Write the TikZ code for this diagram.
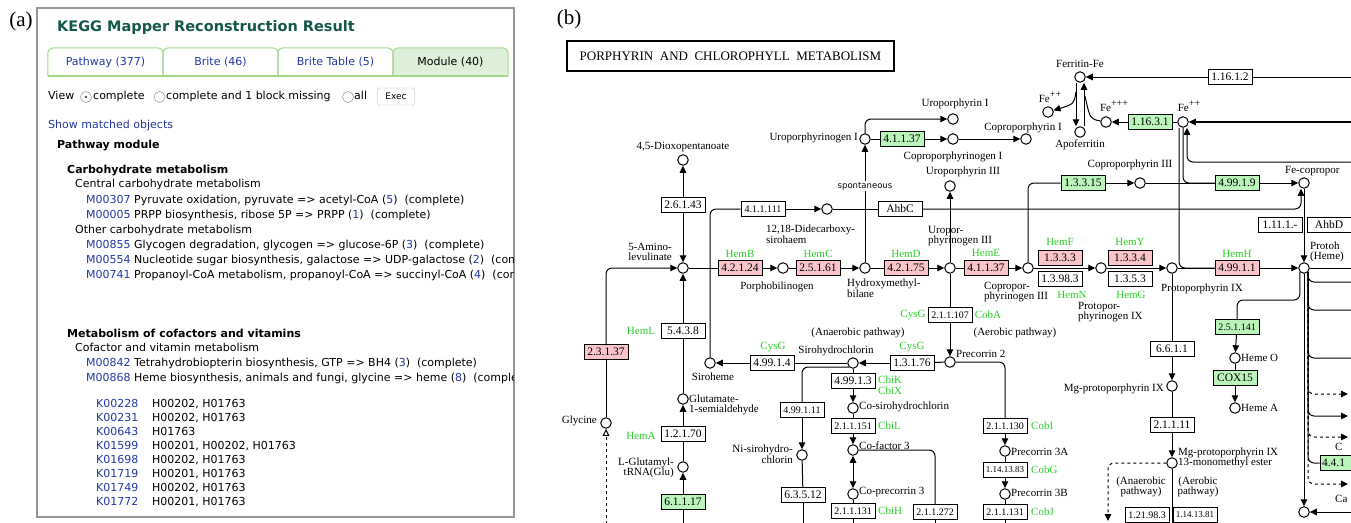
\documentclass[tikz,border=0pt]{standalone}
\usepackage{fontspec}
\setmainfont{Liberation Serif}
\setsansfont{DejaVu Sans}
\usepackage{xcolor}
\usepackage{tikz}
\usetikzlibrary{
    positioning,
    arrows.meta
}
\definecolor{keggPink}{RGB}{250, 196, 202}
\definecolor{keggGreen}{RGB}{186, 246, 186}
\definecolor{geneGreen}{RGB}{40, 205, 40}
\definecolor{linkBlue}{RGB}{35, 55, 165}
\definecolor{titleTeal}{RGB}{20, 88, 76}
\definecolor{tabGreen}{RGB}{160, 215, 140}
\definecolor{tabFill}{RGB}{222, 240, 218}
\definecolor{frameGray}{RGB}{150, 150, 150}

\newcommand{\webfont}{\sffamily\fontsize{11}{13}\selectfont}
\newcommand{\webbold}{\sffamily\bfseries\fontsize{11}{13}\selectfont}
\newcommand{\cpdfont}{\rmfamily\fontsize{11}{10.5}\selectfont}
\newcommand{\ecfont}{\rmfamily\fontsize{11.5}{12}\selectfont}
\newcommand{\ecsmall}{\rmfamily\fontsize{10}{11}\selectfont}
\newcommand{\ectiny}{\rmfamily\fontsize{9}{10}\selectfont}
\newcommand{\linkid}[1]{\textcolor{linkBlue}{#1}}
\newcommand{\ionsup}[1]{\raisebox{4.5pt}{\fontsize{10}{10}\selectfont #1}}

\tikzset{
    pagetxt/.style={anchor=west, inner sep=0pt, text height=8pt, text depth=2.5pt, font=\webfont},
    tab/.style={minimum width=115pt, minimum height=28pt, inner sep=0pt, font=\webfont},
    radio/.style={circle, draw=gray!75, line width=0.6pt, minimum size=11pt, inner sep=0pt},
    cpd/.style={circle, draw, fill=white, line width=1pt, minimum size=10.5pt, inner sep=0pt},
    enz/.style={draw, fill=white, line width=0.9pt, minimum width=44pt, minimum height=15.5pt, inner sep=0pt, font=\ecfont},
    enzred/.style={enz, fill=keggPink},
    enzgrn/.style={enz, fill=keggGreen},
    gene/.style={text=geneGreen, font=\cpdfont, inner sep=0pt},
    cname/.style={font=\cpdfont, inner sep=0pt, align=center},
    rline/.style={line width=1pt},
    rxn/.style={rline, -{Triangle[length=7pt, width=6.5pt]}},
    rxnboth/.style={rline, {Triangle[length=7pt, width=6.5pt]}-{Triangle[length=7pt, width=6.5pt]}}
}

\begin{document}
\begin{tikzpicture}[x=1pt, y=-1pt]
\useasboundingbox (0,0) rectangle (1351,522);

% ---------------- (a) KEGG Mapper result page ----------------
\node[font=\rmfamily\fontsize{21}{21}\selectfont, inner sep=0pt] (alabel) at (21,21) {(a)};
\draw[frameGray, line width=1.2pt] (37,8) rectangle (514,517);

\begin{scope}
\clip (38,9) rectangle (513,516);
\node[pagetxt, font=\sffamily\bfseries\fontsize{14.5}{16}\selectfont, text=titleTeal,
      text height=11pt, text depth=3pt] (mtitle) at (57,27.5) {KEGG Mapper Reconstruction Result};

% tabs
\fill[tabFill] (393,76) [rounded corners=6pt] |- (508,48) -- (508,76) [sharp corners] -- cycle;
\foreach \cx/\tl [count=\ti] in {105.5/Pathway (377), 220.5/Brite (46), 335.5/Brite Table (5)} {
    \node[tab, text=linkBlue] (tab\ti) at (\cx,62) {\tl};
    \draw[tabGreen, line width=1pt, rounded corners=6pt] (tab\ti.south west) |- (tab\ti.north east) -- (tab\ti.south east);
}
\node[tab] (tab4) at (450.5,62) {Module (40)};
\draw[tabGreen, line width=1pt, rounded corners=6pt] (tab4.south west) |- (tab4.north east) -- (tab4.south east);
\draw[tabGreen, line width=1.6pt] (tab1.south west) -- (tab4.south east);

% view options
\node[pagetxt] (view) at (48,97) {View};
\node[radio] (rad1) at (86,97) {};
\fill[gray!60!black] (rad1) circle (1.3);
\node[pagetxt] (opt1) at (93,97) {complete};
\node[radio] (rad2) at (159.5,97) {};
\node[pagetxt] (opt2) at (166,97) {complete and 1 block missing};
\node[radio] (rad3) at (348,97) {};
\node[pagetxt] (opt3) at (354,97) {all};
\node[draw=gray!55, rounded corners=2pt, minimum width=37pt, minimum height=17pt, inner sep=0pt,
      font=\sffamily\fontsize{9}{10}\selectfont] (exec) at (396,96.5) {Exec};

\node[pagetxt, text=linkBlue] (showobj) at (48,126) {Show matched objects};
\node[pagetxt, font=\webbold] (pmod) at (57,146) {Pathway module};

% carbohydrate modules
\node[pagetxt, font=\webbold] (carbo) at (67,171) {Carbohydrate metabolism};
\node[pagetxt] (central) at (75,185) {Central carbohydrate metabolism};
\node[pagetxt] (m307) at (86,200.5) {\linkid{M00307} Pyruvate oxidation, pyruvate => acetyl-CoA (\linkid{5})\ \ (complete)};
\node[pagetxt] (m005) at (86,215.5) {\linkid{M00005} PRPP biosynthesis, ribose 5P => PRPP (\linkid{1})\ \ (complete)};
\node[pagetxt] (other) at (75,230.5) {Other carbohydrate metabolism};
\node[pagetxt] (m855) at (86,246) {\linkid{M00855} Glycogen degradation, glycogen => glucose-6P (\linkid{3})\ \ (complete)};
\node[pagetxt] (m554) at (86,261) {\linkid{M00554} Nucleotide sugar biosynthesis, galactose => UDP-galactose (\linkid{2})\ \ (complete)};
\node[pagetxt] (m741) at (86,276) {\linkid{M00741} Propanoyl-CoA metabolism, propanoyl-CoA => succinyl-CoA (\linkid{4})\ \ (complete)};

% cofactor modules
\node[pagetxt, font=\webbold] (cofac) at (67,335) {Metabolism of cofactors and vitamins};
\node[pagetxt] (cofvit) at (75,349) {Cofactor and vitamin metabolism};
\node[pagetxt] (m842) at (86,364) {\linkid{M00842} Tetrahydrobiopterin biosynthesis, GTP => BH4 (\linkid{3})\ \ (complete)};
\node[pagetxt] (m868) at (86,379) {\linkid{M00868} Heme biosynthesis, animals and fungi, glycine => heme (\linkid{8})\ \ (complete)};

% matched orthologs
\foreach \ky/\kid/\hid [count=\ki] in {405/K00228/{H00202, H01763}, 419/K00231/{H00202, H01763},
        433/K00643/{H01763}, 447/K01599/{H00201, H00202, H01763}, 461/K01698/{H00202, H01763},
        475/K01719/{H00201, H01763}, 489/K01749/{H00202, H01763}, 503/K01772/{H00201, H01763}} {
    \node[pagetxt, text=linkBlue] (kid\ki) at (96,\ky) {\kid};
    \node[pagetxt] (kh\ki) at (152,\ky) {\hid};
}
\end{scope}

% ---------------- (b) porphyrin map ----------------
\node[font=\rmfamily\fontsize{21}{21}\selectfont, inner sep=0pt] (blabel) at (569,19) {(b)};
\node[draw, line width=1.6pt, minimum width=327pt, minimum height=30pt, inner sep=0pt,
      font=\rmfamily\fontsize{13}{14}\selectfont] (maptitle) at (730.5,56)
      {PORPHYRIN\ \ AND\ \ CHLOROPHYLL\ \ METABOLISM};

\begin{scope}
\clip (550,0) rectangle (1351,522);

% compounds
\node[cpd] (dioxo) at (683,160) {};
\node[cname] (tDioxo) at (683,147) {4,5-Dioxopentanoate};
\node[cpd] (ala) at (683,268) {};
\node[cname] (tAla) at (650,252) {5-Amino-\\levulinate};
\node[cpd] (glusa) at (683,399) {};
\node[cname, anchor=west, align=left] (tGlusa) at (689,405) {Glutamate-\\1-semialdehyde};
\node[cpd] (glutrna) at (683,467) {};
\node[cname, anchor=east, align=right] (tGlutrna) at (674,468) {L-Glutamyl-\\tRNA(Glu)};
\node[cpd] (glycine) at (606,423) {};
\node[cname, anchor=east] (tGlycine) at (597,421) {Glycine};
\node[cpd] (pbg) at (783,268) {};
\node[cname] (tPbg) at (777,287) {Porphobilinogen};
\node[cpd] (hmb) at (865,268) {};
\node[cname, anchor=north west, align=left] (tHmb) at (847,279) {Hydroxymethyl-\\bilane};
\node[cpd] (urogenIII) at (950,268) {};
\node[cname, anchor=west, align=left] (tUrogenIII) at (928,236) {Uropor-\\phyrinogen III};
\node[cpd] (urogenI) at (865,139) {};
\node[cname, anchor=east] (tUrogenI) at (858,138) {Uroporphyrinogen I};
\node[cpd] (uroI) at (953,119) {};
\node[cname] (tUroI) at (955,104) {Uroporphyrin I};
\node[cpd] (coprogenI) at (953,139) {};
\node[cname] (tCoprogenI) at (953,157) {Coproporphyrinogen I};
\node[cpd] (coproI) at (1026,139) {};
\node[cname] (tCoproI) at (1023,128) {Coproporphyrin I};
\node[cpd] (uroIII) at (950,186) {};
\node[cname] (tUroIII) at (963,172) {Uroporphyrin III};
\node[cpd] (dds) at (827,209) {};
\node[cname, anchor=west, align=left] (tDds) at (766,234) {12,18-Didecarboxy-\\sirohaem};
\node[cpd] (siroheme) at (710,363) {};
\node[cname] (tSiroheme) at (713,377) {Siroheme};
\node[cpd] (sirohydro) at (853,363) {};
\node[cname] (tSirohydro) at (836,351) {Sirohydrochlorin};
\node[cpd] (precorrinII) at (950,362) {};
\node[cname, anchor=west] (tPrecorrinII) at (956,354) {Precorrin 2};
\node[cpd] (cosiro) at (853,408) {};
\node[cname, anchor=west] (tCosiro) at (859,407) {Co-sirohydrochlorin};
\node[cpd] (cofactor) at (853,450) {};
\node[cname, anchor=west] (tCofactor) at (859,446) {Co-factor 3};
\node[cpd] (coprecorrin) at (853,494) {};
\node[cname, anchor=west] (tCoprecorrin) at (859,492) {Co-precorrin 3};
\node[cpd] (nisiro) at (802,455) {};
\node[cname, anchor=east, align=right] (tNisiro) at (793,454) {Ni-sirohydro-\\chlorin};
\node[cpd] (precorrinIIIA) at (1005,451) {};
\node[cname, anchor=west] (tPrecorrinIIIA) at (1011,452) {Precorrin 3A};
\node[cpd] (precorrinIIIB) at (1005,494) {};
\node[cname, anchor=west] (tPrecorrinIIIB) at (1011,493) {Precorrin 3B};
\node[cpd] (coprogenIII) at (1028,268) {};
\node[cname, anchor=west, align=left] (tCoprogenIII) at (984,292) {Copropor-\\phyrinogen III};
\node[cpd] (coproIII) at (1140,183) {};
\node[cname] (tCoproIII) at (1130,165) {Coproporphyrin III};
\node[cpd] (protogenIX) at (1101,268) {};
\node[cname, anchor=west, align=left] (tProtogenIX) at (1078,312) {Protopor-\\phyrinogen IX};
\node[cpd] (protoIX) at (1172,268) {};
\node[cname] (tProtoIX) at (1202,289) {Protoporphyrin IX};
\node[cpd] (fecopro) at (1304,183) {};
\node[cname, anchor=west] (tFecopro) at (1285,171) {Fe-copropor};
\node[cpd] (heme) at (1304,268) {};
\node[cname, anchor=west, align=left] (tHeme) at (1310,252) {Protoh\\(Heme)};
\node[cpd] (hemeO) at (1235,358) {};
\node[cname, anchor=west] (tHemeO) at (1241,358) {Heme O};
\node[cpd] (hemeA) at (1235,408) {};
\node[cname, anchor=west] (tHemeA) at (1241,408) {Heme A};
\node[cpd] (mgproto) at (1172,386) {};
\node[cname, anchor=east] (tMgproto) at (1164,389) {Mg-protoporphyrin IX};
\node[cpd] (mgme) at (1172,463) {};
\node[cname, anchor=west, align=left] (tMgme) at (1178,458) {Mg-protoporphyrin IX\\13-monomethyl ester};
\node[cpd] (hemesink) at (1304,512) {};
\node[cpd] (ferritin) at (1080,77) {};
\node[cname] (tFerritin) at (1080,64) {Ferritin-Fe};
\node[cpd] (apoferritin) at (1080,132) {};
\node[cname] (tApoferritin) at (1080,145) {Apoferritin};
\node[cpd] (feIIa) at (1048,112) {};
\node[cname] (tFeIIa) at (1050,97) {Fe\ionsup{++}};
\node[cpd] (feIII) at (1106,122) {};
\node[cname] (tFeIII) at (1114,106) {Fe\ionsup{+++}};
\node[cpd] (feIIb) at (1183,122) {};
\node[cname] (tFeIIb) at (1189,106) {Fe\ionsup{++}};

% enzymes and genes
\node[enz] (e26143) at (683,205) {2.6.1.43};
\node[enz] (e5438) at (683,331) {5.4.3.8};
\node[gene] (gHemL) at (641,331) {HemL};
\node[enz] (e12170) at (683,434) {1.2.1.70};
\node[gene] (gHemA) at (641,436) {HemA};
\node[enzgrn] (e61117) at (683,502) {6.1.1.17};
\node[enzred] (e23137) at (606,352) {2.3.1.37};
\node[enz, font=\ecsmall] (e411111) at (763,209) {4.1.1.111};
\node[enzred] (e42124) at (740,268) {4.2.1.24};
\node[gene] (gHemB) at (740,254) {HemB};
\node[enzred] (e25161) at (818,268) {2.5.1.61};
\node[gene] (gHemC) at (818,254) {HemC};
\node[enzred] (e42175) at (906,268) {4.2.1.75};
\node[gene] (gHemD) at (906,254) {HemD};
\node[enzred] (e41137) at (986,268) {4.1.1.37};
\node[gene] (gHemE) at (986,253) {HemE};
\node[enzred] (e1333) at (1060,258) {1.3.3.3};
\node[gene] (gHemF) at (1060,242) {HemF};
\node[enz] (e13983) at (1060,279) {1.3.98.3};
\node[gene] (gHemN) at (1072,295) {HemN};
\node[enzred] (e1334) at (1130,258) {1.3.3.4};
\node[gene] (gHemY) at (1130,242) {HemY};
\node[enz] (e1353) at (1130,279) {1.3.5.3};
\node[gene] (gHemG) at (1131,295) {HemG};
\node[enzred] (e49911) at (1237,268) {4.99.1.1};
\node[gene] (gHemH) at (1237,254) {HemH};
\node[enzgrn] (e41137b) at (902,139) {4.1.1.37};
\node[enz] (ahbc) at (900,209) {AhbC};
\node[enz, font=\ecsmall] (e211107) at (950,315) {2.1.1.107};
\node[gene] (gCysGa) at (913,315) {CysG};
\node[gene] (gCobA) at (988,315) {CobA};
\node[cname] (tAerobic) at (1015,333) {(Aerobic pathway)};
\node[cname] (tAnaerobic) at (858,333) {(Anaerobic pathway)};
\node[enzgrn] (e13315) at (1083,183) {1.3.3.15};
\node[enzgrn] (e49919) at (1237,183) {4.99.1.9};
\node[enz] (e1111) at (1280,225) {1.11.1.-};
\node[enz] (ahbd) at (1329,225) {AhbD};
\node[enzgrn] (e11631) at (1150,122) {1.16.3.1};
\node[enz] (e11612) at (1230,77) {1.16.1.2};
\node[enz] (e49914) at (772,363) {4.99.1.4};
\node[gene] (gCysGb) at (773,347) {CysG};
\node[enz] (e13176) at (912,363) {1.3.1.76};
\node[gene] (gCysGc) at (912,347) {CysG};
\node[enz] (e49913) at (853,381) {4.99.1.3};
\node[gene, anchor=west] (gCbiK) at (878,380) {CbiK};
\node[gene, anchor=west] (gCbiX) at (878,391) {CbiX};
\node[enz, font=\ecsmall] (e499111) at (802,410) {4.99.1.11};
\node[enz, font=\ecsmall] (e211151) at (853,426) {2.1.1.151};
\node[gene, anchor=west] (gCbiL) at (878,426) {CbiL};
\node[enz] (e63512) at (803,495) {6.3.5.12};
\node[enz, font=\ecsmall] (e211131a) at (853,511) {2.1.1.131};
\node[gene, anchor=west] (gCbiH) at (878,511) {CbiH};
\node[enz, font=\ecsmall] (e211272) at (935,512) {2.1.1.272};
\node[enz, font=\ecsmall] (e211130) at (1005,426) {2.1.1.130};
\node[gene, anchor=west] (gCobI) at (1031,426) {CobI};
\node[enz, font=\ectiny] (e1141383) at (1005,470) {1.14.13.83};
\node[gene, anchor=west] (gCobG) at (1031,470) {CobG};
\node[enz, font=\ecsmall] (e211131b) at (1005,512) {2.1.1.131};
\node[gene, anchor=west] (gCobJ) at (1031,512) {CobJ};
\node[enz] (e6611) at (1172,349) {6.6.1.1};
\node[enz] (e21111) at (1172,425) {2.1.1.11};
\node[enz, font=\ecsmall] (e121983) at (1147,515) {1.21.98.3};
\node[enz, font=\ectiny] (e1141381) at (1195,515) {1.14.13.81};
\node[enzgrn, font=\ecsmall] (e251141) at (1237,327) {2.5.1.141};
\node[enzgrn] (cox) at (1235,378) {COX15};
\node[enzgrn, text width=40pt, align=left] (e4411) at (1342,463) {4.4.1};
\node[cname] (tAnaer2) at (1141,487) {(Anaerobic\\pathway)};
\node[cname] (tAer2) at (1198,487) {(Aerobic\\pathway)};
\node[cname, anchor=west] (tCa) at (1335,447) {C};
\node[cname, anchor=west] (tCb) at (1335,499) {Ca};

% free ends
\coordinate (gluBot) at (683,530);
\coordinate (glyBot) at (606,530);
\coordinate (niBot) at (803,530);
\coordinate (coBot) at (853,530);
\coordinate (cfBot) at (935,530);
\coordinate (pcBot) at (1005,530);
\coordinate (mgBot) at (1172,530);
\coordinate (anBot) at (1108,521);
\coordinate (ferIn) at (1360,77);
\coordinate (feIn) at (1360,122);
\coordinate (feUp) at (1360,162);
\coordinate (ferDrop) at (1076,92);
\coordinate (ferJoin) at (1085,96);
\coordinate (hemeOut) at (1360,268);
\coordinate (sinkIn) at (1360,512);
\coordinate (hoBend) at (1237,300);

% ALA formation
\draw[rxn] (e26143) -- (dioxo);
\draw[rxn] (e26143) -- (ala);
\draw[rxn] (e5438) -- (ala);
\draw[rline] (glusa) -- (e5438);
\draw[rxn] (e12170) -- (glusa);
\draw[rline] (glutrna) -- (e12170);
\draw[rxn] (e61117) -- (glutrna);
\draw[rline] (e61117) -- (gluBot);
\draw[rline, dashed, -{Triangle[open, length=7pt, width=6.5pt]}] (glyBot) -- (glycine);
\draw[rline] (glycine) -- (e23137);
\draw[rxn, rounded corners=6pt] (e23137) |- (ala);

% heme main chain
\draw[rline] (ala) -- (e42124);
\draw[rxn] (e42124) -- (pbg);
\draw[rline] (pbg) -- (e25161);
\draw[rxn] (e25161) -- (hmb);
\draw[rline] (hmb) -- (e42175);
\draw[rxn] (e42175) -- (urogenIII);
\draw[rline] (urogenIII) -- (e41137);
\draw[rxn] (e41137) -- (coprogenIII);
\draw[rxn] (coprogenIII) -- (protogenIX);
\draw[rxn] (protogenIX) -- (protoIX);
\draw[rline] (protoIX) -- (e49911);
\draw[rxn] (e49911) -- (heme);

% type I isomers
\draw[rxn] (hmb) -- (urogenI);
\node[font=\sffamily\fontsize{8.5}{9}\selectfont, fill=white, inner sep=1pt] (tSpont) at (865,186) {spontaneous};
\draw[rline] (urogenI) -- (e41137b);
\draw[rxn] (e41137b) -- (coprogenI);
\draw[rxn, rounded corners=6pt] (urogenI) |- (uroI);
\draw[rxn] (coprogenI) -- (coproI);
\draw[rxn] (urogenIII) -- (uroIII);

% siroheme / cobalamin side
\draw[rline] (urogenIII) -- (e211107);
\draw[rxn] (e211107) -- (precorrinII);
\draw[rline] (precorrinII) -- (e13176);
\draw[rxn] (e13176) -- (sirohydro);
\draw[rline] (sirohydro) -- (e49914);
\draw[rxn] (e49914) -- (siroheme);
\draw[rline, rounded corners=6pt] (siroheme) |- (e411111);
\draw[rxn] (e411111) -- (dds);
\draw[rline] (dds) -- (ahbc);
\draw[rxn, rounded corners=6pt] (ahbc) -| ([xshift=-3pt]fecopro.south);
\draw[rline] (sirohydro) -- (e49913);
\draw[rxn] (e49913) -- (cosiro);
\draw[rline] (cosiro) -- (e211151);
\draw[rxn] (e211151) -- (cofactor);
\draw[rxnboth] (cofactor) -- (coprecorrin);
\draw[rline] (coprecorrin) -- (e211131a);
\draw[rline] (e211131a) -- (coBot);
\draw[rline, rounded corners=6pt] (sirohydro.south west) -| (e499111);
\draw[rxn] (e499111) -- (nisiro);
\draw[rline] (nisiro) -- (e63512);
\draw[rline] (e63512) -- (niBot);
\draw[rline, rounded corners=6pt] (cofactor) -| (e211272);
\draw[rline] (e211272) -- (cfBot);
\draw[rline, rounded corners=6pt] (precorrinII) -| (e211130);
\draw[rxn] (e211130) -- (precorrinIIIA);
\draw[rline] (precorrinIIIA) -- (e1141383);
\draw[rxn] (e1141383) -- (precorrinIIIB);
\draw[rline] (precorrinIIIB) -- (e211131b);
\draw[rline] (e211131b) -- (pcBot);

% coproporphyrin route
\draw[rline, rounded corners=6pt] (coprogenIII) |- (e13315);
\draw[rxn] (e13315) -- (coproIII);
\draw[rline] (coproIII) -- (e49919);
\draw[rxn] (e49919) -- (fecopro);
\draw[rxn] (fecopro) -- (heme);

% chlorophyll side
\draw[rline] (protoIX) -- (e6611);
\draw[rxn] (e6611) -- (mgproto);
\draw[rline] (mgproto) -- (e21111);
\draw[rxn] (e21111) -- (mgme);
\draw[rline] (mgme) -- (mgBot);
\draw[rxn, dashed, rounded corners=6pt] (mgme) -| (anBot);

% iron
\draw[rline] (ferIn) -- (e11612);
\draw[rxn] (e11612) -- (ferritin);
\draw[rxn] ([xshift=-4pt]ferritin.south) -- ([xshift=-4pt]apoferritin.north);
\draw[rxn] ([xshift=4pt]apoferritin.north) -- ([xshift=4pt]ferritin.south);
\draw[rxn] (ferDrop) .. controls (1074,104) .. (feIIa);
\draw[rline] (feIII) .. controls (1090,119) .. (ferJoin);
\draw[rxn] (e11631) -- (feIII);
\draw[rline] (feIIb) -- (e11631);
\draw[rxn, line width=1.4pt] (feIn) -- (feIIb);
\draw[rxn, rounded corners=6pt] (feUp) -| ([xshift=4pt]feIIb.south);
\draw[rline, rounded corners=6pt] ([xshift=-4pt]feIIb.south) |- (e49911);
\draw[rline, rounded corners=6pt] (feIIb) |- (e49919);

% heme fates
\draw[rxn] (heme) -- (hemesink);
\draw[rxn] (sinkIn) -- (hemesink);
\draw[rline] (heme) -- (hemeOut);
\draw[rline, rounded corners=6pt] (heme.south west) |- (hoBend) -- (e251141);
\draw[rxn] (e251141) -- (hemeO);
\draw[rline] (hemeO) -- (cox);
\draw[rxn] (cox) -- (hemeA);
\foreach \by in {282,310,358} {
    \coordinate (hb\by) at (1360,\by);
    \draw[rline, rounded corners=6pt] (heme.south east) |- (hb\by);
}
\coordinate (hbs) at (1348,416);
\draw[rxn, rounded corners=6pt] (heme.south east) |- (hbs);
\foreach \by in {394,437,484} {
    \coordinate (hd\by) at (1348,\by);
    \draw[rxn, dashed, rounded corners=6pt] (heme.south east) |- (hd\by);
}
\draw[rline, rounded corners=6pt] (heme.south east) |- (e4411);
\end{scope}

\end{tikzpicture}
\end{document}
